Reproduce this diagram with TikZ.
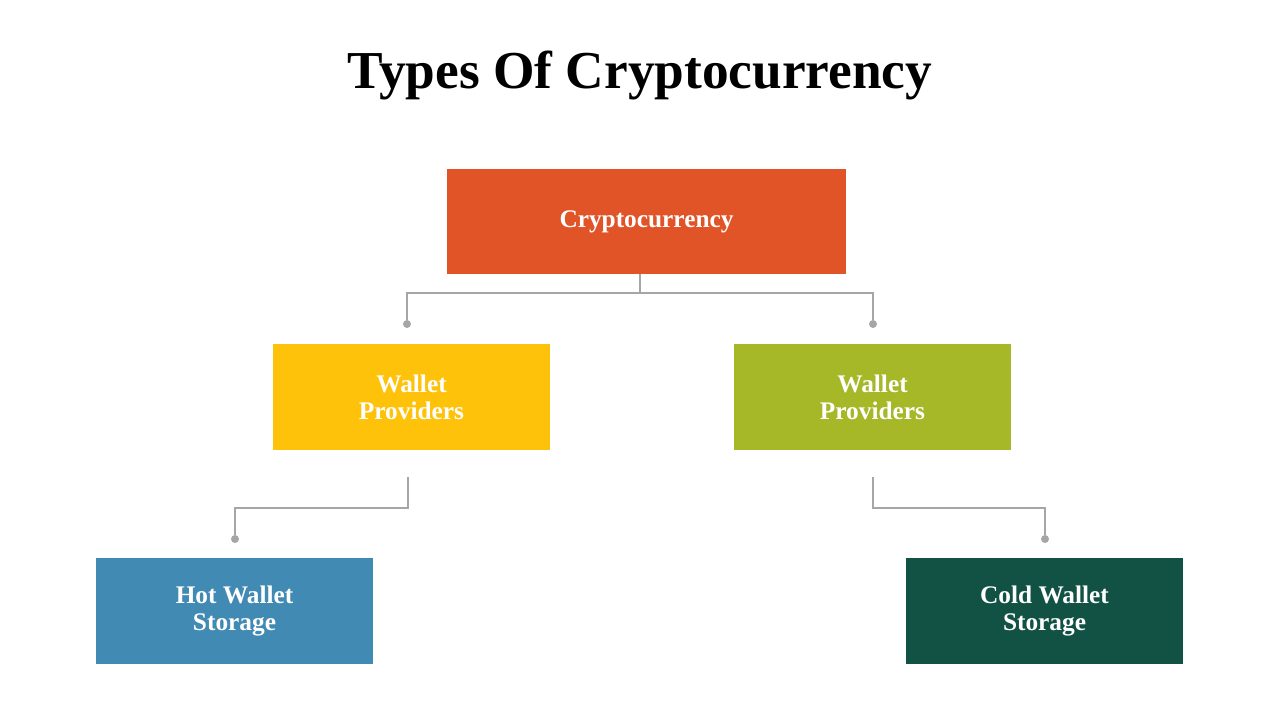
\documentclass[tikz,border=0pt]{standalone}
\usepackage{fontspec}
\setmainfont{Liberation Serif}
\definecolor{corange}{HTML}{E05427}
\definecolor{cyellow}{HTML}{FFC20A}
\definecolor{cgreen}{HTML}{A6B727}
\definecolor{cblue}{HTML}{418AB3}
\definecolor{cdark}{HTML}{115245}
\definecolor{cline}{HTML}{A6A6A6}
\begin{document}
\begin{tikzpicture}[x=0.75pt,y=-0.75pt,
  box/.style={inner sep=0pt,text=white,font=\bfseries\fontsize{19}{20}\selectfont,align=center},
  conn/.style={draw=cline,line width=2pt},
  dot/.style={circle,fill=cline,inner sep=0pt,minimum size=6pt}]
\useasboundingbox (0,0) rectangle (1280,720);
\node[font=\bfseries\fontsize{40}{44}\selectfont] (title) at (640,75) {Types Of Cryptocurrency};
\node[box,fill=corange,minimum width=299pt,minimum height=79pt] (top) at (646.5,221.5) {Cryptocurrency};
\node[box,fill=cyellow,minimum width=208pt,minimum height=80pt] (ml) at (411.5,397) {Wallet\\Providers};
\node[box,fill=cgreen,minimum width=208pt,minimum height=80pt] (mr) at (872.5,397) {Wallet\\Providers};
\node[box,fill=cblue,minimum width=208pt,minimum height=80pt] (bl) at (234.5,611) {Hot Wallet\\Storage};
\node[box,fill=cdark,minimum width=208pt,minimum height=80pt] (br) at (1044.5,611) {Cold Wallet\\Storage};
\coordinate (t0) at (640,274);
\node[dot] (d1) at (407,324) {};
\node[dot] (d2) at (873,324) {};
\coordinate (l0) at (408,477);
\coordinate (r0) at (873,477);
\node[dot] (d3) at (235,539) {};
\node[dot] (d4) at (1045,539) {};
\draw[conn] (t0) -- (640,293);
\draw[conn] (d1) -- (407,293) -- (873,293) -- (d2);
\draw[conn] (l0) -- (408,508) -- (235,508) -- (d3);
\draw[conn] (r0) -- (873,508) -- (1045,508) -- (d4);
\end{tikzpicture}
\end{document}
